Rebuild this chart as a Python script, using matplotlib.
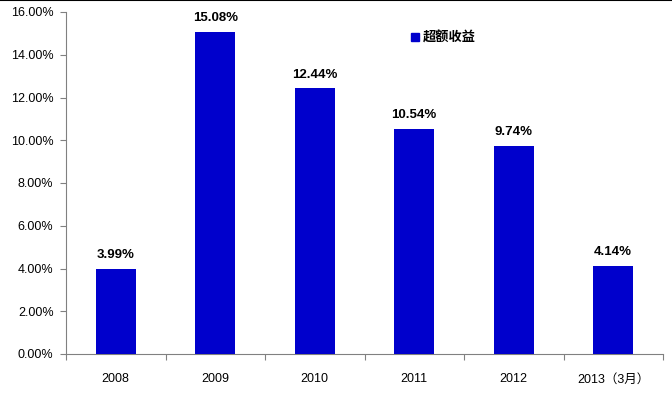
import matplotlib
matplotlib.use('Agg')
import matplotlib.pyplot as plt
import matplotlib.lines as mlines
import numpy as np

plt.rcParams['font.family'] = ['Liberation Sans', 'Noto Sans CJK SC', 'DejaVu Sans']

# data
years = ['2008', '2009', '2010', '2011', '2012', '2013（3月）']
excess_return = [3.99, 15.08, 12.44, 10.54, 9.74, 4.14]
series_name = '超额收益'

BAR_COLOR = '#0000CC'

fig = plt.figure(figsize=(6.72, 3.93), dpi=100, facecolor='white')
ax = fig.add_axes([66 / 672, 1 - 354 / 393, (663 - 66) / 672, (354 - 12) / 393])

x = np.arange(len(years))
ax.bar(x, excess_return, width=0.4, color=BAR_COLOR, zorder=3)

for xi, v in zip(x, excess_return):
    ax.text(xi, v + 0.35, f'{v:.2f}%', ha='center', va='bottom',
            fontsize=9.5, fontweight='bold', color='black')

ax.set_xlim(-0.5, len(years) - 0.5)
ax.set_ylim(0, 16)
ax.set_yticks(np.arange(0, 17, 2))
ax.set_yticklabels([f'{t:.2f}%' for t in np.arange(0, 17, 2)], fontsize=9)

# category ticks between groups, labels centred
ax.set_xticks(np.arange(-0.5, len(years), 1.0))
ax.set_xticklabels([])
ax.set_xticks(x, minor=True)
ax.set_xticklabels(years, minor=True, fontsize=9)
ax.tick_params(axis='x', which='minor', length=0, pad=14)
ax.tick_params(axis='x', which='major', length=4, direction='out', color='#808080')
ax.tick_params(axis='y', length=4, direction='out', color='#808080', pad=5)

for s in ['top', 'right']:
    ax.spines[s].set_visible(False)
ax.spines['left'].set_color('#808080')
ax.spines['bottom'].set_color('#808080')

# legend
handle = mlines.Line2D([], [], marker='s', linestyle='none', markersize=6,
                       color=BAR_COLOR)
leg = ax.legend([handle], [series_name], loc='upper left',
                bbox_to_anchor=(0.553, 0.981), frameon=False,
                handletextpad=0.1, handlelength=1.0,
                prop={'family': ['Noto Sans CJK SC'], 'weight': 'bold', 'size': 9.5})

# thin black border along the top edge
fig.add_artist(mlines.Line2D([0, 1], [0.999, 0.999], transform=fig.transFigure,
                             color='black', linewidth=1.5))

fig.savefig('out.png', dpi=100, facecolor='white')
